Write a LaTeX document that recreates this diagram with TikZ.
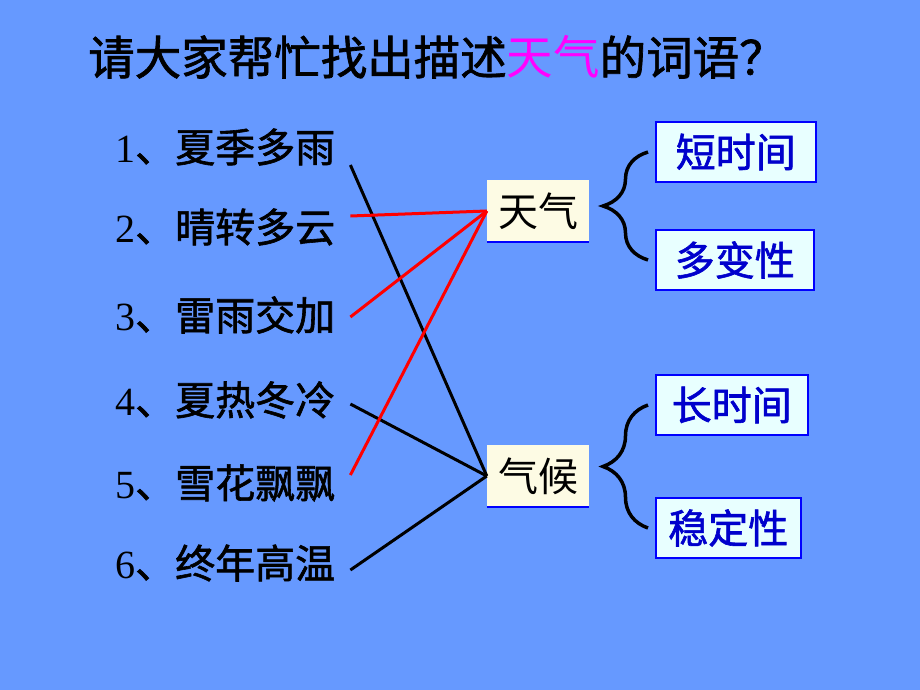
\documentclass[tikz,border=0pt]{standalone}
\usepackage{fontspec}
\usetikzlibrary{
    decorations.pathreplacing,
    positioning
}
\newfontfamily\cjk{Noto Sans CJK SC}
\newfontfamily\cjkbold[FakeBold=1.5]{Noto Sans CJK SC}
\newfontfamily\numfont{Liberation Serif}
\definecolor{slidebg}{HTML}{6699FF}
\definecolor{wordpink}{HTML}{FF00FF}
\definecolor{creambox}{HTML}{FDFBE4}
\definecolor{cyanbox}{HTML}{E8FFFF}
\definecolor{traitblue}{HTML}{0000CC}

\begin{document}
\begin{tikzpicture}[x=1pt, y=-1pt,
    item/.style={anchor=west, inner sep=0pt, font=\fontsize{40}{40}\cjkbold},
    word/.style={fill=creambox, minimum width=102pt, minimum height=62pt,
        inner sep=0pt, font=\fontsize{40}{40}\cjk},
    trait/.style={draw=blue, line width=1.5pt, fill=cyanbox, text=traitblue,
        anchor=west, minimum height=60pt, inner sep=0pt,
        font=\fontsize{40}{40}\cjkbold},
    redline/.style={red, line width=3pt},
    blackline/.style={black, line width=3pt},
    brace/.style={decorate, decoration={brace, amplitude=45pt}, line width=3.5pt}
]
    \fill[slidebg] (0, 0) rectangle (920, 690);
    \useasboundingbox (0, 0) rectangle (920, 690);

    \node (title) at (437, 57) {\fontsize{46.5}{46.5}\cjkbold
        请大家帮忙找出描述{\cjk\color{wordpink}天气}的词语？};

    % the six phrases
    \node[item] (i1) at (115, 147) {{\numfont 1}、夏季多雨};
    \node[item] (i2) at (115, 227) {{\numfont 2}、晴转多云};
    \node[item] (i3) at (115, 315) {{\numfont 3}、雷雨交加};
    \node[item] (i4) at (115, 400) {{\numfont 4}、夏热冬冷};
    \node[item] (i5) at (115, 483) {{\numfont 5}、雪花飘飘};
    \node[item] (i6) at (115, 563) {{\numfont 6}、终年高温};

    \node[word] (tq) at (538, 211) {天气};
    \node[word] (qh) at (538, 476) {气候};
    \draw[blue, line width=2pt] (tq.south west) -- (tq.south east);
    \draw[blue, line width=2pt] (qh.south west) -- (qh.south east);

    \node[trait, minimum width=160pt] (duan) at (655, 152) {短时间};
    \node[trait, minimum width=158pt] (duo) at (655, 260) {多变性};
    \node[trait, minimum width=152pt] (chang) at (655, 405) {长时间};
    \node[trait, minimum width=145pt] (wen) at (655, 528) {稳定性};

    \draw[brace] ([xshift=-7pt]duo.west) -- ([xshift=-7pt]duan.west);
    \draw[brace] ([xshift=-7pt]wen.west) -- ([xshift=-7pt]chang.west);

    % matching lines
    \draw[blackline] ([shift={(15, 18)}]i1.east) -- (qh.west);
    \draw[redline] ([shift={(15, -11)}]i2.east) -- (tq.west);
    \draw[redline] ([shift={(15, 2)}]i3.east) -- (tq.west);
    \draw[blackline] ([shift={(15, 4)}]i4.east) -- (qh.west);
    \draw[redline] ([shift={(15, -8)}]i5.east) -- (tq.west);
    \draw[blackline] ([shift={(15, 7)}]i6.east) -- (qh.west);
\end{tikzpicture}
\end{document}
